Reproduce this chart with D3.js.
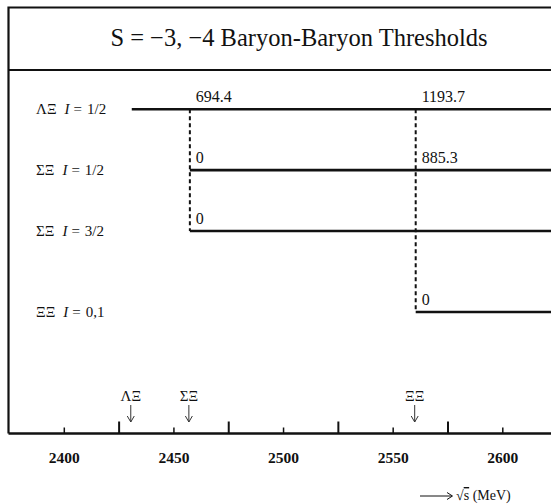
<!DOCTYPE html>
<html><head><meta charset="utf-8">
<script src="https://cdn.jsdelivr.net/npm/d3@7"></script>
<style>body{margin:0;background:#fff} svg{display:block}</style>
</head><body>
<svg id="chart" width="551" height="504"></svg>
<script>
// Two-baryon channels with strangeness S = -3, -4
const channelNames = ["ΛΞ", "ΣΞ", "ΣΞ", "ΞΞ"];
const channelIsospin = ["1/2", "1/2", "3/2", "0,1"];
const channelThreshold = [2431, 2457.5, 2457.5, 2560.5]; // MeV
const channelSlot = [0, 1, 2, 3.33];

// Thresholds marked with arrows on the energy axis
const thresholdNames = ["ΛΞ", "ΣΞ", "ΞΞ"];
const thresholdValues = [2431, 2457.5, 2560.5]; // MeV

// Numbers written on the channel lines where a new threshold opens
const markerChannel = [0, 1, 2, 0, 1, 3];
const markerThreshold = [1, 1, 1, 2, 2, 2];
const markerText = ["694.4", "0", "0", "1193.7", "885.3", "0"];

// Energy axis ticks
const labelledTicks = [2400, 2450, 2500, 2550, 2600];
const majorTicks = [2425, 2475, 2525, 2575];

const svg = d3.select("#chart");
const W = 551, H = 504;
const serif = "'Liberation Serif', 'Times New Roman', serif";

const x = d3.scaleLinear().domain([2400, 2600]).range([63.8, 502.3]);
const y = d3.scaleLinear().domain([0, 2]).range([109.3, 231]);
const axisY = 433.5;
const frameX = 8.5, frameTop = 7.5, titleBottom = 70;

// frame and title box
svg.append("path")
  .attr("d", `M${W + 5},${frameTop} H${frameX} V${axisY} M${frameX},${titleBottom} H${W + 5}`)
  .attr("fill", "none").attr("stroke", "#111").attr("stroke-width", 2.2);

svg.append("text")
  .attr("x", 299).attr("y", 46)
  .attr("text-anchor", "middle")
  .attr("font-family", serif).attr("font-size", 24.5).attr("fill", "#111")
  .text("S = −3, −4 Baryon-Baryon Thresholds");

// channel labels on the left
channelNames.forEach((name, i) => {
  const t = svg.append("text")
    .attr("x", 36).attr("y", y(channelSlot[i]) + 5)
    .attr("font-family", serif).attr("font-size", 15).attr("fill", "#111");
  t.append("tspan").text(name);
  t.append("tspan").attr("dx", 8).attr("font-style", "italic").text("I");
  t.append("tspan").attr("dx", 4).text("=");
  t.append("tspan").attr("dx", 5).text(channelIsospin[i]);
});

// channel lines, each starting at its own threshold
svg.append("g").selectAll("line")
  .data(channelNames.map((d, i) => i))
  .join("line")
  .attr("x1", i => x(channelThreshold[i]))
  .attr("x2", W + 5)
  .attr("y1", i => y(channelSlot[i]))
  .attr("y2", i => y(channelSlot[i]))
  .attr("stroke", "#111").attr("stroke-width", 2.6);

// dashed drop lines at each threshold that carries numbers
const dropThresholds = Array.from(new Set(markerThreshold));
dropThresholds.forEach(t => {
  const rows = markerChannel.filter((c, k) => markerThreshold[k] === t);
  const ys = rows.map(c => y(channelSlot[c]));
  svg.append("line")
    .attr("x1", x(thresholdValues[t])).attr("x2", x(thresholdValues[t]))
    .attr("y1", d3.min(ys)).attr("y2", d3.max(ys))
    .attr("stroke", "#111").attr("stroke-width", 2)
    .attr("stroke-dasharray", "4,3");
});

// numbers at the openings
svg.append("g").selectAll("text")
  .data(markerText.map((d, k) => k))
  .join("text")
  .attr("x", k => x(thresholdValues[markerThreshold[k]]) + 6)
  .attr("y", k => y(channelSlot[markerChannel[k]]) - 7)
  .attr("font-family", serif).attr("font-size", 16).attr("fill", "#111")
  .text(k => markerText[k]);

// energy axis: unlabelled long ticks, labelled short ticks
const gMajor = svg.append("g").attr("transform", `translate(0,${axisY})`)
  .call(d3.axisTop(x).tickValues(majorTicks).tickSize(12).tickSizeOuter(0).tickFormat(""));
gMajor.select(".domain").remove();
gMajor.selectAll(".tick line").attr("stroke", "#111").attr("stroke-width", 2);

const gMinor = svg.append("g").attr("transform", `translate(0,${axisY})`)
  .call(d3.axisBottom(x).tickValues(labelledTicks).tickSize(-6).tickSizeOuter(0)
    .tickPadding(18).tickFormat(d3.format("d")));
gMinor.select(".domain").remove();
gMinor.selectAll(".tick line").attr("stroke", "#111").attr("stroke-width", 1.5);
gMinor.selectAll(".tick text")
  .attr("font-family", serif).attr("font-size", 15.5).attr("font-weight", "bold")
  .attr("fill", "#111");

svg.append("line")
  .attr("x1", frameX).attr("x2", W + 5).attr("y1", axisY).attr("y2", axisY)
  .attr("stroke", "#111").attr("stroke-width", 2.6);

// threshold arrows above the axis
const arrows = svg.append("g").selectAll("g")
  .data(thresholdNames.map((d, i) => i))
  .join("g")
  .attr("transform", i => `translate(${x(thresholdValues[i]) - 1},0)`);
arrows.append("text")
  .attr("y", 401).attr("text-anchor", "middle")
  .attr("font-family", serif).attr("font-size", 15).attr("fill", "#111")
  .text(i => thresholdNames[i]);
arrows.append("path")
  .attr("d", "M0,405 V422 M-3.5,416 L0,422 L3.5,416")
  .attr("fill", "none").attr("stroke", "#333").attr("stroke-width", 1);

// axis caption: long arrow, then sqrt(s) in MeV
svg.append("path")
  .attr("d", "M420,496 H452 M447,492.5 L452.5,496 L447,499.5")
  .attr("fill", "none").attr("stroke", "#111").attr("stroke-width", 1);
const cap = svg.append("text")
  .attr("x", 456).attr("y", 500)
  .attr("font-family", serif).attr("font-size", 14).attr("fill", "#111");
cap.append("tspan").text("√");
cap.append("tspan").attr("text-decoration", "overline").text("s");
cap.append("tspan").text(" (MeV)");
</script>
</body></html>
